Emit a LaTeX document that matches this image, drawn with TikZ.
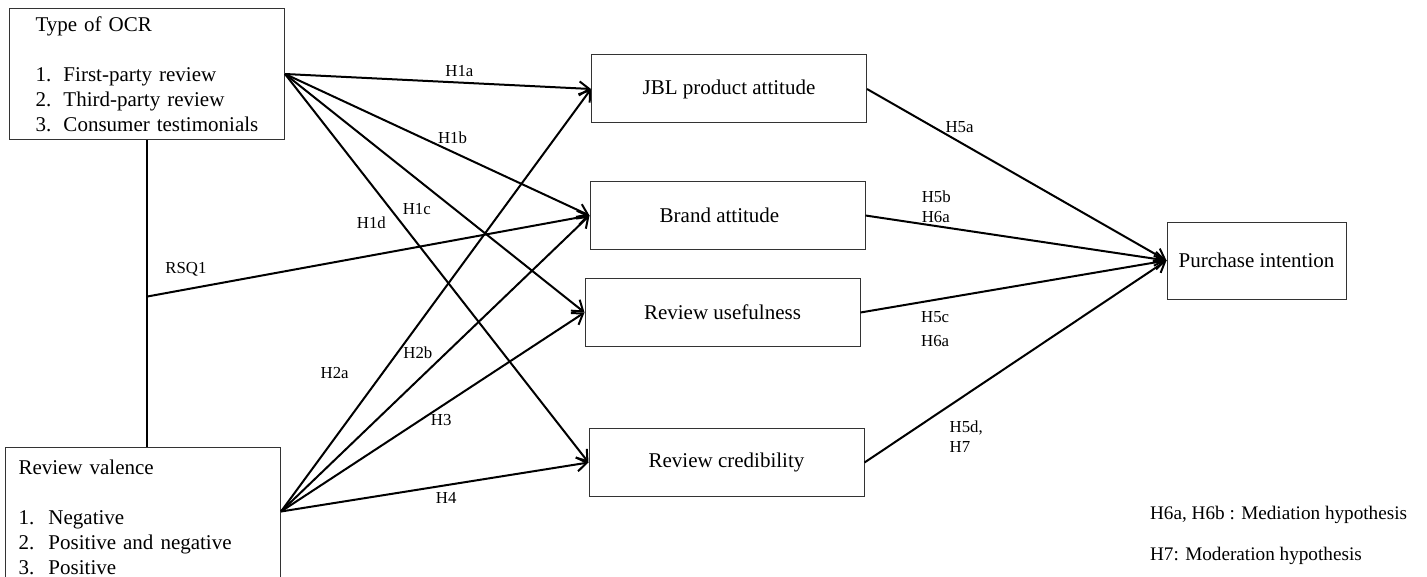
\documentclass[tikz,border=0pt]{standalone}
\usepackage{fontspec}
\setmainfont{Liberation Serif}
\usetikzlibrary{arrows.meta}
\usetikzlibrary{positioning,calc}

\begin{document}
\begin{tikzpicture}[x=0.5pt,y=-0.5pt,every text node part/.style={align=center}]
\tikzset{myFont/.style={font=\fontsize{10.5}{12.5}\selectfont}}
\tikzset{labFont/.style={font=\fontsize{8.4}{10}\selectfont}}
\tikzset{myBox/.style={draw=black!80,line width=0.5pt,myFont}}
\tikzset{listBox/.style={myBox,every text node part/.style={align=left},minimum width=137.5pt}}
\tikzset{midBox/.style={myBox,minimum width=137.5pt,minimum height=34pt}}
\tikzset{myArrow/.style={line width=1pt,-{Straight Barb[length=5pt,width=7pt]}}}
\tikzset{hypo/.style={labFont,every text node part/.style={align=left}}}

\useasboundingbox (0,0) rectangle (1427,577);
\clip (0,0) rectangle (1427,577);

\node[listBox,anchor=north west,text width=111.5pt,inner xsep=13pt,minimum height=65.5pt] (ocr) at (9,8)
  {Type of OCR\\[12.5pt]
   \makebox[14pt][l]{1.}First-party review\\
   \makebox[14pt][l]{2.}Third-party review\\
   \makebox[14pt][l]{3.}Consumer testimonials};
\node[listBox,anchor=north west,text width=124.5pt,inner xsep=6.5pt,minimum height=69.5pt] (val) at (5,447)
  {Review valence\\[12.5pt]
   \makebox[15pt][l]{1.}Negative\\
   \makebox[15pt][l]{2.}Positive and negative\\
   \makebox[15pt][l]{3.}Positive};

\node[midBox] (jbl) at (729,89) {JBL product attitude};
\node[midBox] (brand) at (727.5,215.5) {Brand attitude\hspace*{8pt}};
\node[midBox] (useful) at (722.5,312.5) {Review usefulness};
\node[midBox] (cred) at (726.5,462.5) {Review credibility};
\node[myBox,minimum width=89.5pt,minimum height=38.5pt] (pi) at (1256.5,260.5) {Purchase intention};

\draw[line width=1pt] (ocr.south) -- (ocr.south |- val.north);
\coordinate (rsq) at ($(ocr.south)!0.51!(ocr.south |- val.north)$);
\coordinate (valout) at ([yshift=2.75pt]val.east);

\path[myArrow] (ocr.east) edge node[hypo,pos=0.57,above=-1pt]{H1a} (jbl.west)
  edge node[hypo,pos=0.55,above]{H1b} (brand.west)
  edge node[hypo,pos=0.566,left=8pt]{H1c} (useful.west)
  edge node[hypo,pos=0.384,left=4pt]{H1d} (cred.west);

\path[myArrow] (valout) edge node[hypo,pos=0.327,left=13pt]{H2a} (jbl.west)
  edge node[hypo,pos=0.538,left=3.5pt]{H2b} (brand.west)
  edge node[hypo,pos=0.528,below]{H3} (useful.west)
  edge node[hypo,pos=0.537,below=0pt]{H4} (cred.west);

\path[myArrow] (rsq) edge node[hypo,pos=0.088,above=3pt]{RSQ1} (brand.west);

\path[myArrow] (jbl.east) edge node[hypo,pos=0.309,above=1pt]{H5a} (pi.west);
\path[myArrow] (brand.east) edge node[hypo,pos=0.235,above=-2pt]{H5b\\H6a} (pi.west);
\path[myArrow] (useful.east) edge node[hypo,pos=0.244,below=2pt]{H5c\\[2pt]H6a} (pi.west);
\path[myArrow] (cred.east) edge node[hypo,pos=0.317,below=7.5pt,xshift=3pt]{H5d,\\H7} (pi.west);

\node[anchor=west,font=\fontsize{9.6}{12}\selectfont] (leg1) at (1143,515) {H6a, H6b : Mediation hypothesis};
\node[anchor=west,font=\fontsize{9.6}{12}\selectfont] (leg2) at (1143,556) {H7: Moderation hypothesis};
\end{tikzpicture}
\end{document}
